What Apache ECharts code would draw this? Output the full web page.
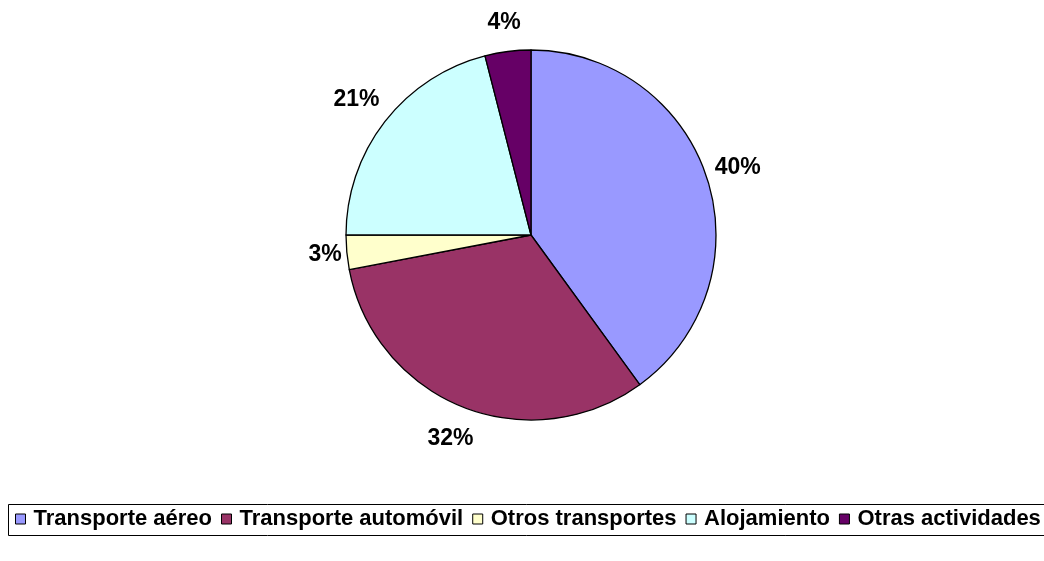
<!DOCTYPE html>
<html>
<head>
<meta charset="utf-8">
<script src="https://cdn.jsdelivr.net/npm/echarts@6/dist/echarts.min.js"></script>
<style>
  html, body { margin: 0; padding: 0; background: #fff; }
  #main { width: 1044px; height: 561px; }
</style>
</head>
<body>
<div id="main"></div>
<script>
// data
const categories = ['Transporte aéreo', 'Transporte automóvil', 'Otros transportes', 'Alojamiento', 'Otras actividades'];
const shares = [40, 32, 3, 21, 4];
const colors = ['#9999FF', '#993366', '#FFFFCC', '#CCFFFF', '#660066'];

const cx = 531, cy = 235, radius = 185;

const total = shares.reduce((a, b) => a + b, 0);

function midAngle(idx) {
  let before = 0;
  for (let i = 0; i < idx; i++) before += shares[i];
  return ((before + shares[idx] / 2) / total) * Math.PI * 2;
}

const chart = echarts.init(document.getElementById('main'), null, { renderer: 'canvas' });

const option = {
  animation: false,
  backgroundColor: '#fff',
  textStyle: { fontFamily: 'Liberation Sans, Arial, sans-serif' },
  color: colors,
  legend: {
    left: 15,
    top: 508,
    padding: 0,
    itemWidth: 10,
    itemHeight: 10,
    itemGap: 9,
    icon: 'rect',
    itemStyle: { borderColor: '#000', borderWidth: 1 },
    textStyle: {
      fontSize: 22,
      lineHeight: 22,
      fontWeight: 'bold',
      color: '#000',
      padding: [0, 0, 0, 3]
    },
    data: categories
  },
  graphic: [
    {
      type: 'rect',
      silent: true,
      shape: { x: 8.5, y: 504.5, width: 1060, height: 31 },
      style: { fill: 'none', stroke: '#000', lineWidth: 1 }
    }
  ],
  series: [
    {
      type: 'pie',
      center: [cx, cy],
      radius: radius,
      startAngle: 90,
      clockwise: true,
      avoidLabelOverlap: false,
      itemStyle: { borderColor: '#000', borderWidth: 1.3 },
      emphasis: { disabled: true },
      label: {
        show: true,
        position: 'outside',
        formatter: '{d}%',
        fontSize: 23,
        fontWeight: 'bold',
        color: '#000'
      },
      labelLine: { show: false },
      // excel-ish placement: label box sits just off the rim
      labelLayout: function (params) {
        const a = midAngle(params.dataIndex);
        const s = Math.sin(a), c = Math.cos(a);
        const r = radius + 3 + Math.abs(s) * params.labelRect.width / 2 + Math.abs(c) * 24;
        return {
          x: cx + r * s,
          y: cy - r * c,
          align: 'center',
          verticalAlign: 'middle'
        };
      },
      data: categories.map((name, i) => ({ name: name, value: shares[i] }))
    }
  ]
};

chart.setOption(option);
</script>
</body>
</html>
